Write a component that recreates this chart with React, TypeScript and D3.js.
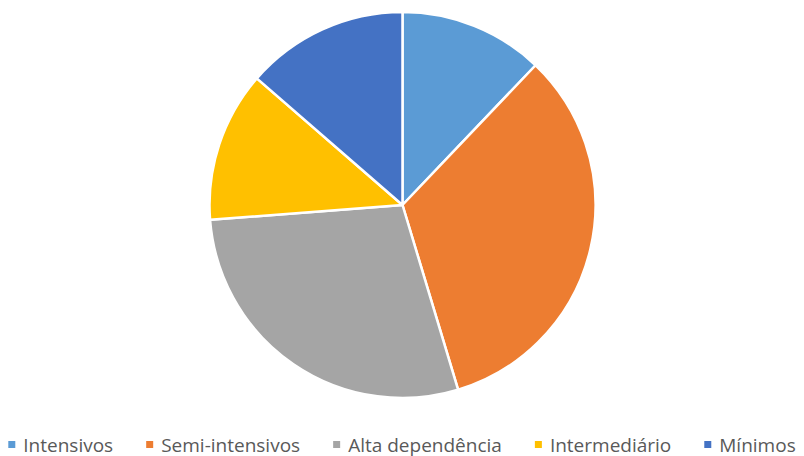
import React, { useEffect, useRef } from "react";
import * as d3 from "d3";

const categories = ["Intensivos", "Semi-intensivos", "Alta dependência", "Intermediário", "Mínimos"];
const values = [12.1, 33.2, 28.4, 12.6, 13.6];
const colors = ["#5B9BD5", "#ED7D31", "#A5A5A5", "#FFC000", "#4472C4"];

const W = 804;
const H = 456;

export default function App() {
  const ref = useRef<SVGSVGElement>(null);
  useEffect(() => {
    const svg = d3.select(ref.current);
    svg.selectAll("*").remove();
    const cx = 402.5, cy = 205, r = 193;
    const pie = d3.pie<number>().sort(null).value((d) => d);
    const arc = d3.arc<d3.PieArcDatum<number>>().innerRadius(0).outerRadius(r);
    const g = svg.append("g").attr("transform", `translate(${cx},${cy})`);
    g.selectAll("path")
      .data(pie(values))
      .join("path")
      .attr("d", arc)
      .attr("fill", (_, i) => colors[i])
      .attr("stroke", "#fff")
      .attr("stroke-width", 2.5)
      .attr("stroke-linejoin", "round");

    // legend
    const font = "'Open Sans', sans-serif";
    const lg = svg.append("g");
    const items = lg.selectAll("g").data(categories).join("g");
    items.append("rect").attr("width", 7).attr("height", 7).attr("y", -4).attr("fill", (_, i) => colors[i]);
    const texts = items
      .append("text")
      .attr("x", 15)
      .attr("dy", "0.35em")
      .attr("font-family", font)
      .attr("font-size", 17)
      .attr("fill", "#595959")
      .text((d) => d);
    // fit legend to target span
    const gap = 33;
    const target = 788;
    const measure = () => {
      const ws: number[] = [];
      texts.each(function () {
        ws.push(15 + (this as SVGTextElement).getComputedTextLength());
      });
      return ws;
    };
    let widths = measure();
    const textSum = d3.sum(widths) - 15 * widths.length;
    const avail = target - gap * (widths.length - 1) - 15 * widths.length;
    const fs = (17 * avail) / textSum;
    texts.attr("font-size", fs);
    widths = measure();
    const total = d3.sum(widths) + gap * (widths.length - 1);
    let x = (W - total) / 2;
    items.attr("transform", (_, i) => {
      const tx = x;
      x += widths[i] + gap;
      return `translate(${tx},445)`;
    });
  }, []);
  return (
    <svg ref={ref} width={W} height={H} style={{ position: "absolute", left: 0, top: 0, background: "#fff" }} />
  );
}
